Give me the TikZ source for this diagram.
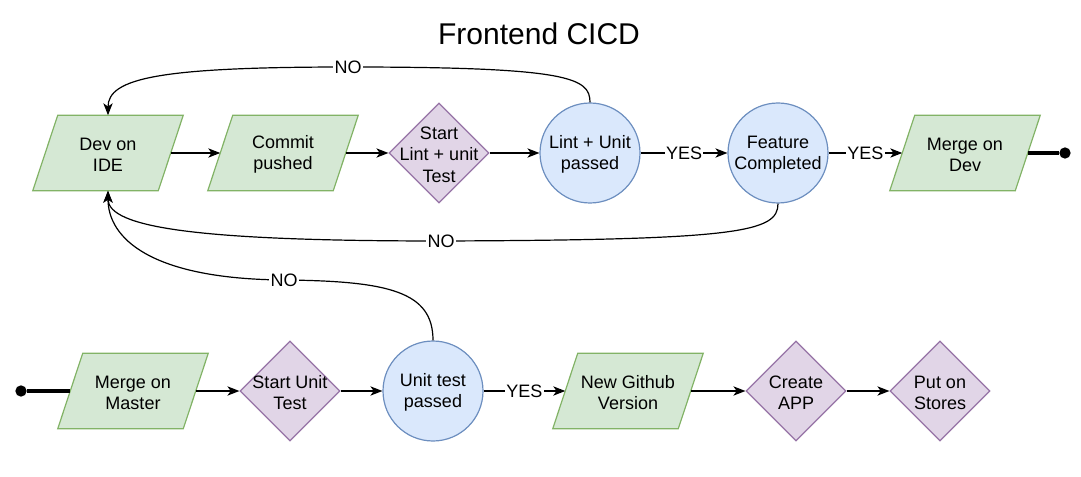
\documentclass[tikz,border=0pt]{standalone}
\usepackage{fontspec}
\setmainfont{Liberation Sans}
\usetikzlibrary{arrows.meta,shapes.geometric}
\definecolor{gfill}{HTML}{D5E8D4}
\definecolor{gline}{HTML}{82B366}
\definecolor{pfill}{HTML}{E1D5E7}
\definecolor{pline}{HTML}{9673A6}
\definecolor{bfill}{HTML}{DAE8FC}
\definecolor{bline}{HTML}{6C8EBF}
\newcommand\paragram[1]{%
  \filldraw[parashape] ([xshift=9.375pt]#1.north west) -- ([xshift=9.375pt]#1.north east)
    -- ([xshift=-9.375pt]#1.south east) -- ([xshift=-9.375pt]#1.south west) -- cycle;}
\begin{document}
\begin{tikzpicture}[x=0.75pt,y=-0.75pt,
  txt/.style={font=\fontsize{13.5}{16}\selectfont, align=center, inner sep=0pt, yshift=-1.2pt},
  para/.style={rectangle, minimum width=93.75pt, minimum height=56.25pt, inner sep=0pt},
  parashape/.style={draw=gline, fill=gfill, line width=0.9pt},
  dia/.style={diamond, aspect=1, minimum size=75pt, inner sep=0pt,
    draw=pline, fill=pfill, line width=0.9pt},
  circ/.style={circle, minimum size=75pt, inner sep=0pt,
    draw=bline, fill=bfill, line width=0.9pt},
  conn/.style={line width=0.9pt, -{Stealth[length=9pt,width=7pt,inset=2.5pt]}},
  lbl/.style={font=\fontsize{13.5}{16}\selectfont, fill=white, inner sep=1pt},
  dot/.style={circle, fill=black, minimum size=8.5pt, inner sep=0pt},
  thickline/.style={line width=3pt}
]
\useasboundingbox (0,0) rectangle (1081,477);

\node[font=\fontsize{22.5}{27}\selectfont, inner sep=0pt] (title) at (539,34) {Frontend CICD};

% top row
\node[para] (dev) at (108,153) {};
\paragram{dev}
\node[txt] (devt) at (dev) {Dev on\\IDE};
\node[para] (commit) at (283,153) {};
\paragram{commit}
\node[txt] (committ) at (commit) {Commit\\pushed};
\node[dia] (slint) at (439,153) {};
\node[txt] (slintt) at (slint) {Start\\Lint + unit\\Test};
\node[circ] (lint) at (590,153) {};
\node[txt] (lintt) at (lint) {Lint + Unit\\passed};
\node[circ] (feat) at (778,153) {};
\node[txt] (featt) at (feat) {Feature\\Completed};
\node[para] (mdev) at (965,153) {};
\paragram{mdev}
\node[txt] (mdevt) at (mdev) {Merge on\\Dev};
\node[dot] (enddot) at (1065,153) {};

% bottom row
\node[dot] (startdot) at (21,391) {};
\node[para] (mmaster) at (133,391) {};
\paragram{mmaster}
\node[txt] (mmastert) at (mmaster) {Merge on\\Master};
\node[dia] (sunit) at (290,391) {};
\node[txt] (sunitt) at (sunit) {Start Unit\\Test};
\node[circ] (unit) at (433,391) {};
\node[txt] (unitt) at (unit) {Unit test\\passed};
\node[para] (github) at (628,391) {};
\paragram{github}
\node[txt] (githubt) at (github) {New Github\\Version};
\node[dia] (create) at (796,391) {};
\node[txt] (createt) at (create) {Create\\APP};
\node[dia] (put) at (940,391) {};
\node[txt] (putt) at (put) {Put on\\Stores};

% straight connectors
\draw[conn] (dev) -- (commit);
\draw[conn] (commit) -- (slint);
\draw[conn] (slint) -- (lint);
\draw[conn] (lint) -- node[lbl] (yes1) {YES} (feat);
\draw[conn] (feat) -- node[lbl] (yes2) {YES} (mdev);
\draw[thickline] (mdev) -- (enddot);

\draw[thickline] (startdot) -- (mmaster);
\draw[conn] (mmaster) -- (sunit);
\draw[conn] (sunit) -- (unit);
\draw[conn] (unit) -- node[lbl] (yes3) {YES} (github);
\draw[conn] (github) -- (create);
\draw[conn] (create) -- (put);

% curved NO connectors
\draw[conn] (lint.north) .. controls (590,78) and (570,67) .. (348,67)
  node[lbl] (no1) {NO}
  .. controls (160,67) and (108,78) .. (dev.north);
\draw[conn] (feat.south) .. controls (778,232) and (740,240) .. (441,241)
  node[lbl] (no2) {NO}
  .. controls (200,241) and (108,228) .. (dev.south);
\draw[conn] (unit.north) .. controls (433,292) and (390,281) .. (284,280)
  node[lbl] (no3) {NO}
  .. controls (150,279) and (108,238) .. (dev.south);
\end{tikzpicture}
\end{document}
